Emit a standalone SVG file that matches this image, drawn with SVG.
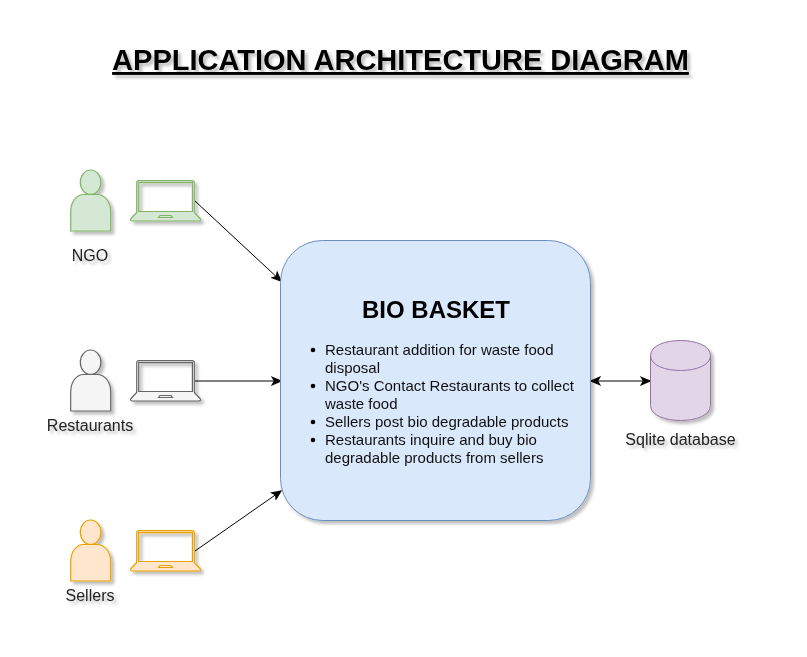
<svg xmlns="http://www.w3.org/2000/svg" width="807" height="657" viewBox="0 0 807 657">
<style>
text{font-family:"Liberation Sans",Arial,sans-serif;fill:#000;filter:url(#sh)}
.lb{font-size:16px;text-anchor:middle;fill:#222}
.it{font-size:15px;fill:#111}
.green{fill:#d5e8d4;stroke:#82b366}
.grey{fill:#f5f5f5;stroke:#666666}
.orange{fill:#ffe6cc;stroke:#e8a200}
.shp{stroke-width:1.2}
.cn{fill:none;stroke:#000;stroke-width:1}
</style>
<defs>
<filter id="sh" x="-20%" y="-20%" width="150%" height="150%"><feDropShadow dx="3" dy="3" stdDeviation="1.5" flood-color="#000" flood-opacity="0.25"/></filter>
<marker id="arr" viewBox="0 0 10 10" refX="9" refY="5" markerWidth="11" markerHeight="11" orient="auto-start-reverse" markerUnits="userSpaceOnUse"><path d="M1 1.500L9 5L1 8.500L3 5Z" fill="#000" stroke="#000"/></marker>
<g id="person"><path d="M.7 61V42C.7 32 6 24.500 14 24.500H27C35 24.500 40.700 32 40.700 42V61Z"/><ellipse cx="20.600" cy="12.200" rx="10.300" ry="12.200"/></g>
<g id="laptop"><path fill-rule="evenodd" d="M6.700 32.500V3Q6.700 .7 9 .7H62Q64.300 .7 64.300 3V32.500L70 38.500Q71.500 40.500 69 41H2Q-.5 40.500 1 38.500ZM8.700 2.600V31.500H62.400V2.600Z"/><path d="M28.500 37.500L30 35.500H41L42.500 37.500Z"/></g>
</defs>
<rect width="807" height="657" fill="#fff"/>
<text id="title" x="400.500" y="70" font-size="29" font-weight="bold" text-anchor="middle" text-decoration="underline">APPLICATION ARCHITECTURE DIAGRAM</text>
<g id="connectors" class="cn">
<line x1="195" y1="201" x2="281" y2="281" marker-end="url(#arr)"/>
<line x1="195" y1="381" x2="281" y2="381" marker-end="url(#arr)"/>
<line x1="195" y1="551" x2="281" y2="491" marker-end="url(#arr)"/>
<line x1="591" y1="381" x2="650" y2="381" marker-start="url(#arr)" marker-end="url(#arr)"/>
</g>
<g id="ngo" filter="url(#sh)">
<use href="#person" x="70" y="170" class="green shp"/><use href="#laptop" x="130" y="180" class="green shp"/>
<text class="lb" x="90" y="261" style="filter:none">NGO</text></g>
<g id="restaurants" filter="url(#sh)">
<use href="#person" x="70" y="350" class="grey shp"/><use href="#laptop" x="130" y="360" class="grey shp"/>
<text class="lb" x="90" y="431" style="filter:none">Restaurants</text></g>
<g id="sellers" filter="url(#sh)">
<use href="#person" x="70" y="520" class="orange shp"/><use href="#laptop" x="130" y="530" class="orange shp"/>
<text class="lb" x="90" y="601" style="filter:none">Sellers</text></g>
<g id="bio-basket" filter="url(#sh)">
<rect x="280.500" y="240.500" width="310" height="280" rx="42" fill="#dae8fc" stroke="#6c8ebf" stroke-width="1"/>
<text x="436" y="318" font-size="24" font-weight="bold" text-anchor="middle" style="filter:none">BIO BASKET</text>
<g style="fill:#000">
<circle cx="313" cy="350" r="2.300"/><circle cx="313" cy="386" r="2.300"/><circle cx="313" cy="422" r="2.300"/><circle cx="313" cy="440" r="2.300"/>
</g>
<text class="it" style="filter:none"><tspan x="325" y="355">Restaurant addition for waste food</tspan><tspan x="325" y="373">disposal</tspan><tspan x="325" y="391">NGO's Contact Restaurants to collect</tspan><tspan x="325" y="409">waste food</tspan><tspan x="325" y="427">Sellers post bio degradable products</tspan><tspan x="325" y="445">Restaurants inquire and buy bio</tspan><tspan x="325" y="463">degradable products from sellers</tspan></text>
</g>
<g id="database" filter="url(#sh)">
<path d="M650.500 355.500C650.500 335.500 710.500 335.500 710.500 355.500V405.500C710.500 425.500 650.500 425.500 650.500 405.500Z" fill="#e1d5e7" stroke="#9673a6" stroke-width="1"/>
<path d="M650.500 355.500C650.500 375.500 710.500 375.500 710.500 355.500" fill="none" stroke="#9673a6" stroke-width="1"/>
<text class="lb" x="680.500" y="445" style="filter:none">Sqlite database</text>
</g>
</svg>
